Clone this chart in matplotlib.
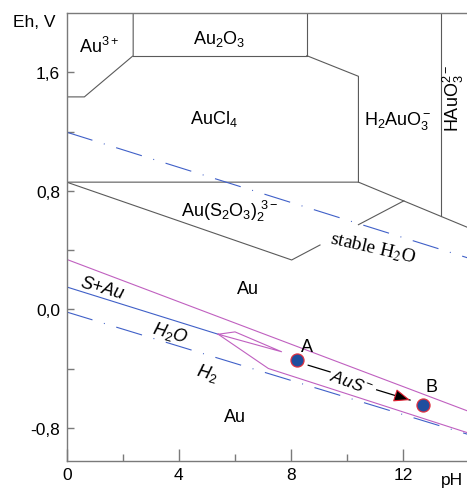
import matplotlib
matplotlib.use('Agg')
import matplotlib.pyplot as plt

plt.rcParams['font.family'] = ['Liberation Sans', 'DejaVu Sans']
plt.rcParams['mathtext.fontset'] = 'custom'
plt.rcParams['mathtext.rm'] = 'Liberation Sans'
plt.rcParams['mathtext.it'] = 'Liberation Sans:italic'
plt.rcParams['lines.scale_dashes'] = False

# boundaries of the Au-S-Cl-H2O Eh-pH diagram (pH, Eh in V)
au3_ph = [0.0, 0.63, 2.37, 2.37]
au3_eh = [1.434, 1.434, 1.712, 2.0]
au2o3_ph = [2.37, 8.56, 8.56]
au2o3_eh = [1.712, 1.712, 2.0]
aucl4_ph = [8.56, 10.40, 10.40, 0.0]
aucl4_eh = [1.712, 1.573, 0.859, 0.859]
h2auo3_ph = [10.40, 14.3]
h2auo3_eh = [0.859, 0.553]
hauo3_ph = [13.33, 13.33]
hauo3_eh = [2.0, 0.630]
thio_ph = [0.0, 8.02, 9.03]
thio_eh = [0.859, 0.334, 0.435]
thio2_ph = [10.40, 12.02]
thio2_eh = [0.572, 0.733]

# water stability lines and sulfur line
o2_ph = [0.0, 14.3]
o2_eh = [1.196, 0.348]
h2_ph = [0.0, 14.3]
h2_eh = [-0.017, -0.842]
sulfur_ph = [0.0, 5.40]
sulfur_eh = [0.152, -0.167]

# AuS- field
aus_top_ph = [0.0, 14.3]
aus_top_eh = [0.338, -0.685]
wedge_ph = [5.40, 6.00, 7.66, 5.40]
wedge_eh = [-0.167, -0.151, -0.285, -0.167]
aus_low_ph = [5.40, 7.19, 14.3]
aus_low_eh = [-0.167, -0.398, -0.832]

# points A, B and the arrow between them
pts_ph = [8.20, 12.69]
pts_eh = [-0.340, -0.645]
pts_lbl = ['A', 'B']
arrow_ph = [8.61, 9.39, 11.05, 12.24]
arrow_eh = [-0.376, -0.421, -0.542, -0.611]

x_major = [0, 4, 8, 12]
x_minor = [2, 6, 10]
y_major = [1.6, 0.8, 0.0, -0.8]
y_labels = ['1,6', '0,8', '0,0', '-0,8']
y_minor = [1.2, 0.4, -0.4]

grey = '#5a5a5a'
frame = '#7a7a7a'
blue = '#4060c8'
magenta = '#c060c0'

fig = plt.figure(figsize=(4.67, 4.89), dpi=100)
ax = fig.add_axes([0.1428, 0.0558, 0.8572, 0.9156])
ax.set_xlim(0, 14.27)
ax.set_ylim(-1.02, 2.0)

for px, ey in [(au3_ph, au3_eh), (au2o3_ph, au2o3_eh), (aucl4_ph, aucl4_eh),
               (h2auo3_ph, h2auo3_eh), (hauo3_ph, hauo3_eh),
               (thio_ph, thio_eh), (thio2_ph, thio2_eh)]:
    ax.plot(px, ey, color=grey, lw=0.8)

dashdot = (0, (19.4, 8.6, 0.7, 8.6))
ax.plot(o2_ph, o2_eh, color=blue, lw=0.8, linestyle=dashdot)
ax.plot(h2_ph, h2_eh, color=blue, lw=0.8, linestyle=dashdot)
ax.plot(sulfur_ph, sulfur_eh, color=blue, lw=0.8)

for px, ey in [(aus_top_ph, aus_top_eh), (wedge_ph, wedge_eh), (aus_low_ph, aus_low_eh)]:
    ax.plot(px, ey, color=magenta, lw=0.8)

ax.plot(arrow_ph[:2], arrow_eh[:2], color='black', lw=0.9)
ax.plot(arrow_ph[2:], arrow_eh[2:], color='black', lw=0.9)
ax.annotate('', xy=(arrow_ph[3], arrow_eh[3]), xytext=(11.80, -0.585),
            arrowprops=dict(arrowstyle='-|>,head_length=1.0,head_width=0.4',
                            fc='black', ec='#e02030', lw=0.8, shrinkA=0, shrinkB=0))

ax.plot(pts_ph, pts_eh, 'o', ms=9.4, mfc='#1f4e9e', mec='#e03040', mew=0.9, zorder=5)
ax.text(8.57, -0.279, pts_lbl[0], fontsize=13, ha='center', va='baseline')
ax.text(13.01, -0.549, pts_lbl[1], fontsize=13, ha='center', va='baseline')

# field labels
fs = 13
ax.text(1.15, 1.735, 'Au$^{3+}$', fontsize=fs, ha='center', va='baseline')
ax.text(5.43, 1.798, 'Au$_2$O$_3$', fontsize=fs, ha='center', va='baseline')
ax.text(5.25, 1.259, 'AuCl$_4$', fontsize=fs, ha='center', va='baseline')
ax.text(11.82, 1.248, 'H$_2$AuO$_3^-$', fontsize=fs, ha='center', va='baseline')
ax.text(13.77, 1.43, 'HAuO$_3^{2-}$', fontsize=fs, ha='center', va='center', rotation=90)
ax.text(5.79, 0.630, 'Au(S$_2$O$_3$)$_2^{\\ 3-}$', fontsize=fs, ha='center', va='baseline')
ax.text(10.93, 0.417, 'stable H$_2$O', fontsize=14, family='Liberation Serif',
        math_fontfamily='stix', ha='center', va='center', rotation=-13,
        rotation_mode='anchor')
ax.text(6.47, 0.114, 'Au', fontsize=fs, ha='center', va='baseline')
ax.text(6.0, -0.751, 'Au', fontsize=fs, ha='center', va='baseline')
ax.text(1.25, 0.143, 'S+Au', fontsize=fs, style='italic', ha='center', va='center',
        rotation=-16, rotation_mode='anchor')
ax.text(3.68, -0.155, 'H$_2$O', fontsize=fs, style='italic', ha='center', va='center',
        rotation=-16, rotation_mode='anchor')
ax.text(5.02, -0.425, 'H$_2$', fontsize=fs, style='italic', ha='center', va='center',
        rotation=-16, rotation_mode='anchor')
ax.text(10.16, -0.492, 'AuS$^-$', fontsize=12.5, style='italic', ha='center', va='center',
        rotation=-20, rotation_mode='anchor')

# axes frame and ticks
ax.spines['right'].set_visible(False)
for s in ['left', 'bottom', 'top']:
    ax.spines[s].set_color(frame)
    ax.spines[s].set_linewidth(1.0)

ax.set_xticks(x_major)
ax.set_xticklabels([str(v) for v in x_major])
ax.set_xticks(x_minor, minor=True)
ax.set_yticks(y_major)
ax.set_yticklabels(y_labels)
ax.set_yticks(y_minor, minor=True)
ax.tick_params(which='both', direction='in', color=frame, width=1.0, labelsize=12.5)
ax.tick_params(axis='x', which='major', length=8.6, pad=4.7)
ax.tick_params(axis='x', which='minor', length=4.8)
ax.tick_params(axis='y', which='both', length=5.0, pad=4.8)

fig.text(13 / 467, 1 - 27.3 / 489, 'Eh, V', fontsize=12.5, ha='left', va='baseline')
fig.text(441 / 467, 1 - 485 / 489, 'pH', fontsize=12.5, ha='left', va='baseline')

plt.savefig('out.png', dpi=100)
